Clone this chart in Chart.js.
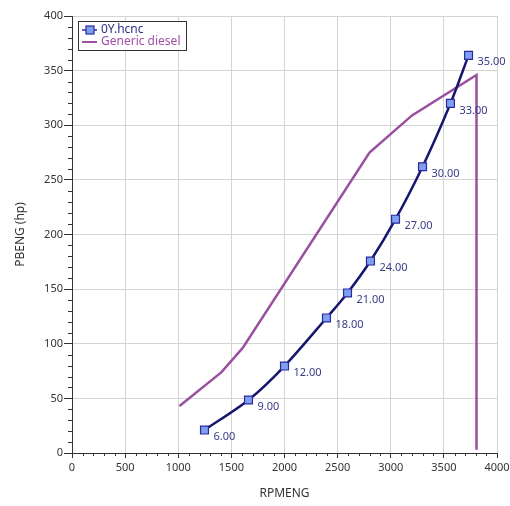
<!DOCTYPE html>
<html>
<head>
<meta charset="utf-8">
<script src="https://cdn.jsdelivr.net/npm/chart.js@4/dist/chart.umd.min.js"></script>
<style>
  html, body { margin: 0; padding: 0; background: #fff; }
  #wrap { width: 510px; height: 506px; }
</style>
</head>
<body>
<div id="wrap"><canvas id="engChart" width="510" height="506"></canvas></div>
<script>
// hull curve 0Y.hcnc (labels are speeds)
const hullRpm = [1247, 1661, 2000, 2395, 2593, 2809, 3045, 3299, 3562, 3732];
const hullPower = [21, 48.5, 79.6, 123.6, 146.5, 175.7, 214, 262, 320, 364];
const hullLabels = ['6.00', '9.00', '12.00', '18.00', '21.00', '24.00', '27.00', '30.00', '33.00', '35.00'];

// engine curve Generic diesel
const engRpm = [1012, 1407, 1605, 2800, 3200, 3807, 3807];
const engPower = [43, 74, 96, 275, 309, 346, 3];

const xTicks = [0, 500, 1000, 1500, 2000, 2500, 3000, 3500, 4000];
const yTicks = [0, 50, 100, 150, 200, 250, 300, 350, 400];

const navy = '#16166e';
const purple = '#9b4f9f';
const font = '"Noto Sans", "Open Sans", sans-serif';

const toXY = (xs, ys) => xs.map((x, i) => ({ x: x, y: ys[i] }));

const extras = {
  id: 'extras',
  afterDraw(chart) {
    const ctx = chart.ctx;
    const xs = chart.scales.x, ys = chart.scales.y;
    const area = chart.chartArea;
    ctx.save();
    // minor ticks
    ctx.strokeStyle = '#333';
    ctx.lineWidth = 1;
    ctx.beginPath();
    for (let v = 100; v < 4000; v += 100) {
      if (v % 500 === 0) continue;
      const px = Math.round(xs.getPixelForValue(v)) + 0.5;
      ctx.moveTo(px, area.bottom);
      ctx.lineTo(px, area.bottom + 3);
    }
    for (let v = 10; v < 400; v += 10) {
      if (v % 50 === 0) continue;
      const py = Math.round(ys.getPixelForValue(v)) + 0.5;
      ctx.moveTo(area.left - 4, py);
      ctx.lineTo(area.left, py);
    }
    ctx.stroke();

    // point labels
    const meta = chart.getDatasetMeta(0);
    ctx.fillStyle = '#3a3a86';
    ctx.font = '11px ' + font;
    ctx.textAlign = 'left';
    ctx.textBaseline = 'middle';
    meta.data.forEach((pt, i) => {
      ctx.fillText(hullLabels[i], pt.x + 9, pt.y + 7);
    });

    // legend box
    const lx = area.left + 6, ly = area.top + 5;
    ctx.fillStyle = '#fff';
    ctx.fillRect(lx, ly, 108, 29);
    ctx.strokeStyle = '#333';
    ctx.strokeRect(lx + 0.5, ly + 0.5, 108, 29);
    ctx.font = '12px ' + font;
    ctx.lineWidth = 1.5;
    ctx.strokeStyle = '#2a2aa0';
    ctx.beginPath();
    ctx.moveTo(lx + 4, ly + 9);
    ctx.lineTo(lx + 19, ly + 9);
    ctx.stroke();
    ctx.fillStyle = '#7f9ff0';
    ctx.fillRect(lx + 8, ly + 5, 8, 8);
    ctx.lineWidth = 1.2;
    ctx.strokeRect(lx + 8, ly + 5, 8, 8);
    ctx.fillStyle = '#2e2e86';
    ctx.fillText(chart.data.datasets[0].label, lx + 23, ly + 9);
    ctx.strokeStyle = purple;
    ctx.lineWidth = 2;
    ctx.beginPath();
    ctx.moveTo(lx + 4, ly + 21);
    ctx.lineTo(lx + 19, ly + 21);
    ctx.stroke();
    ctx.fillStyle = '#a050a8';
    ctx.fillText(chart.data.datasets[1].label, lx + 23, ly + 21);
    ctx.restore();
  }
};

new Chart(document.getElementById('engChart'), {
  type: 'line',
  data: {
    datasets: [
      {
        label: '0Y.hcnc',
        data: toXY(hullRpm, hullPower),
        borderColor: navy,
        borderWidth: 2.5,
        tension: 0.3,
        pointStyle: 'rect',
        pointRadius: 5.6,
        pointBackgroundColor: '#7f9ff0',
        pointBorderColor: '#2a2aa0',
        pointBorderWidth: 1.2
      },
      {
        label: 'Generic diesel',
        data: toXY(engRpm, engPower),
        borderColor: purple,
        borderWidth: 2.5,
        tension: 0,
        pointRadius: 0
      }
    ]
  },
  options: {
    responsive: false,
    animation: false,
    layout: { padding: { top: 16, right: 13, left: 0, bottom: 0 } },
    plugins: { legend: { display: false }, tooltip: { enabled: false } },
    scales: {
      x: {
        type: 'linear',
        min: 0, max: 4000,
        afterBuildTicks: s => { s.ticks = xTicks.map(v => ({ value: v })); },
        afterFit: s => { s.height = 53; s.paddingRight = 0; s.paddingLeft = 0; },
        grid: { color: '#d4d4d4', tickColor: '#333', tickLength: 5 },
        border: { color: '#333' },
        ticks: { color: '#333', font: { family: font, size: 11 }, padding: 3, maxRotation: 0, callback: v => String(v) },
        title: { display: true, text: 'RPMENG', color: '#333', font: { family: font, size: 12 }, padding: { bottom: 5 } }
      },
      y: {
        type: 'linear',
        min: 0, max: 400,
        afterBuildTicks: s => { s.ticks = yTicks.map(v => ({ value: v })); },
        afterFit: s => { s.width = 72; s.paddingTop = 0; s.paddingBottom = 0; },
        grid: { color: '#d4d4d4', tickColor: '#333', tickLength: 8 },
        border: { color: '#333' },
        ticks: { color: '#333', font: { family: font, size: 11 }, padding: 1, callback: v => String(v) },
        title: { display: true, text: 'PBENG (hp)', color: '#333', font: { family: font, size: 12 }, padding: { top: 13 } }
      }
    }
  },
  plugins: [extras]
});
</script>
</body>
</html>
